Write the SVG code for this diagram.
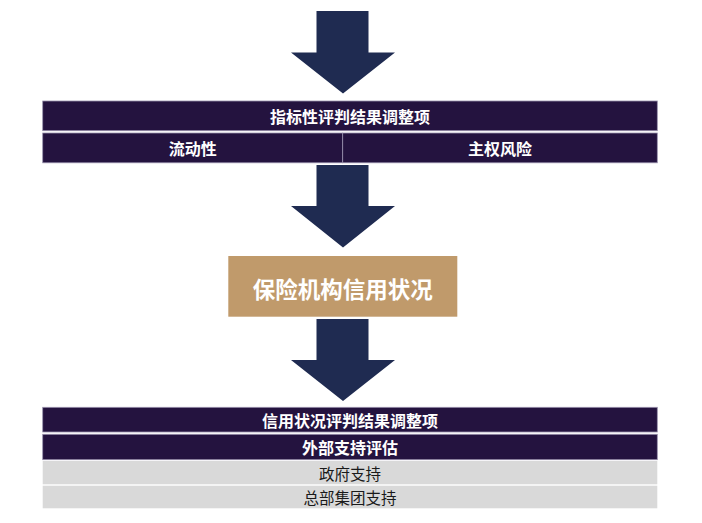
<svg xmlns="http://www.w3.org/2000/svg" width="702" height="523" viewBox="0 0 702 523">
<style>
.bar{fill:#24133F;stroke:#9a92ad;stroke-width:0.8}
.gray{fill:#D9D9D9}
.arrow{fill:#1F2B51}
.tw{fill:#ffffff;font-family:"Noto Sans CJK SC","Noto Sans",sans-serif;font-weight:700;font-size:16px;text-anchor:middle;dominant-baseline:central}
.td{fill:#1a1a1a;font-family:"Noto Sans CJK SC","Noto Sans",sans-serif;font-weight:400;font-size:15.5px;text-anchor:middle;dominant-baseline:central}
.tbig{fill:#ffffff;font-family:"Noto Sans CJK SC","Noto Sans",sans-serif;font-weight:700;font-size:22.5px;text-anchor:middle;dominant-baseline:central}
</style>
<rect width="702" height="523" fill="#ffffff"/>
<g id="connectors">
<polygon class="arrow" points="316.5,11 368.5,11 368.5,52.5 395,52.5 343,93.5 291,52.5 316.5,52.5"/>
<polygon class="arrow" points="316.5,165 368.5,165 368.5,206 395,206 343,247.5 291,206 316.5,206"/>
<polygon class="arrow" points="316.5,319 368.5,319 368.5,360 395,360 343,401 291,360 316.5,360"/>
</g>
<g id="indicator-header">
<rect class="bar" x="42.7" y="101" width="614.6" height="29.7"/>
<text class="tw" x="350" y="116">指标性评判结果调整项</text>
</g>
<g id="liquidity">
<rect class="bar" x="42.7" y="133" width="300" height="29.8"/>
<text class="tw" x="192.7" y="148">流动性</text>
</g>
<g id="sovereign-risk">
<rect class="bar" x="342.7" y="133" width="314.6" height="29.8"/>
<text class="tw" x="500" y="148">主权风险</text>
</g>
<g id="credit-status">
<rect x="228.3" y="256" width="229" height="60.7" fill="#C09A6B"/>
<text class="tbig" x="342.8" y="287.5">保险机构信用状况</text>
</g>
<g id="credit-header">
<rect class="bar" x="42.7" y="407.3" width="614.6" height="24.7"/>
<text class="tw" x="350" y="419.5">信用状况评判结果调整项</text>
</g>
<g id="external-support">
<rect class="bar" x="42.7" y="434.3" width="614.6" height="25.4"/>
<text class="tw" x="350" y="447">外部支持评估</text>
</g>
<g id="government-support">
<rect class="gray" x="42.7" y="461" width="614.6" height="23.3"/>
<text class="td" x="350" y="472.5">政府支持</text>
</g>
<g id="group-support">
<rect class="gray" x="42.7" y="485.7" width="614.6" height="22.6"/>
<text class="td" x="350" y="497">总部集团支持</text>
</g>
</svg>
